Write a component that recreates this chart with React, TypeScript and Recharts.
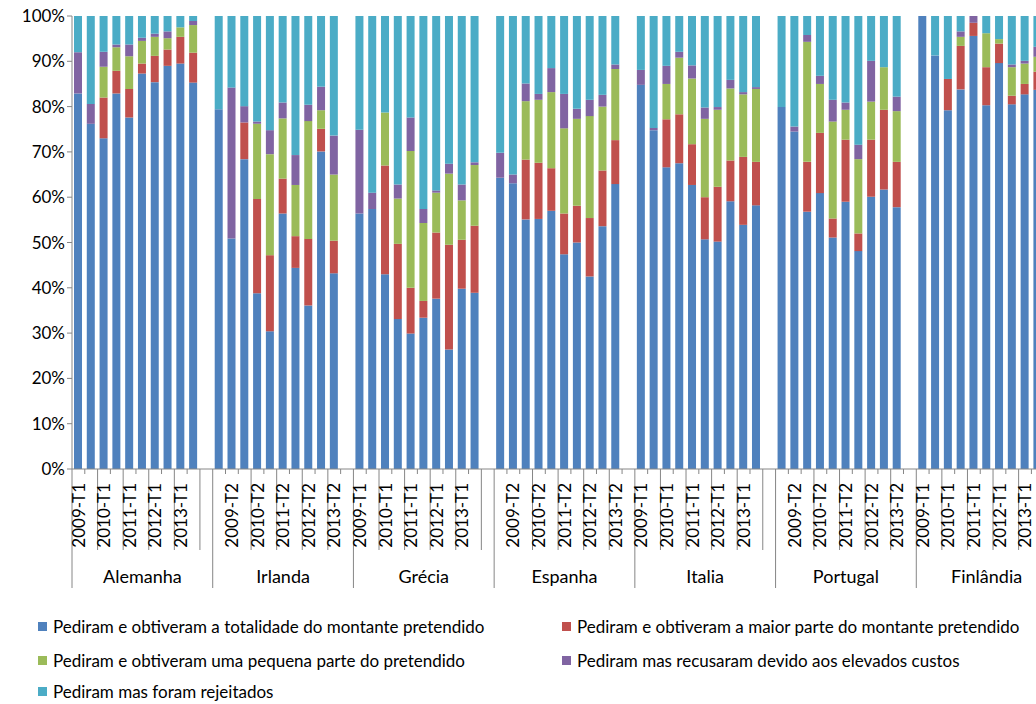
import { Bar, BarChart, XAxis, YAxis } from 'recharts'

const countries = ['Alemanha', 'Irlanda', 'Grécia', 'Espanha', 'Italia', 'Portugal', 'Finlândia']
const periods = ['2009-T1', '2009-T2', '2010-T1', '2010-T2', '2011-T1', '2011-T2', '2012-T1', '2012-T2', '2013-T1', '2013-T2']
const yTicks = [0, 10, 20, 30, 40, 50, 60, 70, 80, 90, 100]

// one row per country, values per period (%)
const totalidade = [
  [82.9, 76.2, 73.0, 82.9, 77.6, 87.3, 85.4, 89.0, 89.5, 85.3],
  [79.4, 50.9, 68.4, 38.8, 30.4, 56.4, 44.4, 36.1, 70.1, 43.2],
  [56.4, 57.4, 43.0, 33.1, 29.9, 33.4, 37.6, 26.4, 39.8, 38.9],
  [64.3, 63.1, 55.1, 55.2, 57.0, 47.4, 50.0, 42.5, 53.6, 62.9],
  [84.8, 74.8, 66.6, 67.5, 62.7, 50.7, 50.2, 59.1, 53.9, 58.2],
  [79.9, 74.5, 56.8, 60.9, 51.1, 59.0, 48.1, 60.1, 61.7, 57.8],
  [100, 91.3, 79.2, 83.8, 95.6, 80.3, 89.6, 80.5, 82.7, 83.7],
]
const maiorParte = [
  [0, 0, 9.0, 5.0, 6.3, 2.2, 5.8, 3.6, 5.9, 6.6],
  [0, 0, 8.1, 20.8, 16.8, 7.7, 7.0, 14.7, 5.0, 7.2],
  [0, 0, 24.0, 16.6, 10.1, 3.7, 14.6, 23.1, 10.8, 14.8],
  [0, 0, 13.2, 12.4, 9.4, 9.0, 8.1, 12.9, 12.3, 9.7],
  [0, 0, 10.6, 10.8, 9.0, 9.3, 12.1, 9.0, 15.0, 9.6],
  [0, 0, 11.0, 13.3, 4.2, 13.7, 3.9, 12.6, 17.6, 10.0],
  [0, 0, 6.9, 9.6, 2.9, 8.4, 4.3, 1.9, 2.3, 4.0],
]
const pequenaParte = [
  [0, 0, 6.8, 5.2, 7.2, 5.0, 4.2, 2.5, 2.1, 6.1],
  [0, 0, 0, 16.6, 22.3, 13.3, 11.3, 26.0, 4.1, 14.6],
  [0, 0, 11.7, 10.0, 30.2, 17.2, 8.8, 15.7, 8.7, 13.4],
  [0, 0, 12.9, 13.9, 16.8, 18.8, 19.2, 22.5, 14.1, 15.7],
  [0, 0, 7.8, 12.5, 14.5, 17.3, 17.0, 15.9, 13.8, 16.1],
  [0, 0, 26.5, 10.8, 21.4, 6.6, 16.4, 8.4, 9.4, 11.2],
  [0, 0, 0, 2.0, 0, 7.5, 1.0, 6.3, 4.5, 3.3],
]
const recusaramCustos = [
  [9.1, 4.4, 3.3, 0.6, 2.6, 0.7, 0.7, 1.5, 0, 0.9],
  [0, 33.3, 3.6, 0.5, 5.3, 3.5, 6.6, 3.6, 5.2, 8.6],
  [18.5, 3.6, 0, 3.1, 7.4, 3.1, 0.5, 2.2, 3.5, 0.6],
  [5.5, 1.9, 3.9, 1.3, 5.3, 7.6, 2.2, 3.6, 2.6, 1.0],
  [3.3, 0.5, 4.0, 1.3, 2.9, 2.5, 0.6, 1.9, 0.5, 0.4],
  [0, 1.1, 1.5, 1.8, 4.8, 1.6, 3.2, 9.0, 0, 3.2],
  [0, 0, 0, 1.2, 1.5, 0, 0, 0.6, 0.6, 2.2],
]
const rejeitados = [
  [8.0, 19.4, 7.9, 6.3, 6.3, 4.8, 3.9, 3.4, 2.5, 1.1],
  [20.6, 15.8, 19.9, 23.3, 25.2, 19.1, 30.7, 19.6, 15.6, 26.4],
  [25.1, 39.0, 21.3, 37.2, 22.4, 42.6, 38.5, 32.6, 37.2, 32.3],
  [30.2, 35.0, 14.9, 17.2, 11.5, 17.2, 20.5, 18.5, 17.4, 10.7],
  [11.9, 24.7, 11.0, 7.9, 10.9, 20.2, 20.1, 14.1, 16.8, 15.7],
  [20.1, 24.4, 4.2, 13.2, 18.5, 19.1, 28.4, 9.9, 11.3, 17.8],
  [0, 8.7, 13.9, 3.4, 0, 3.8, 5.1, 10.7, 9.9, 6.8],
]

const series = [
  { key: 'totalidade', name: 'Pediram e obtiveram a totalidade do montante pretendido', color: '#4F81BD', values: totalidade },
  { key: 'maiorParte', name: 'Pediram e obtiveram a maior parte do montante pretendido', color: '#C0504D', values: maiorParte },
  { key: 'pequenaParte', name: 'Pediram e obtiveram uma pequena parte do pretendido', color: '#9BBB59', values: pequenaParte },
  { key: 'recusaramCustos', name: 'Pediram mas recusaram devido aos elevados custos', color: '#8064A2', values: recusaramCustos },
  { key: 'rejeitados', name: 'Pediram mas foram rejeitados', color: '#4BACC6', values: rejeitados },
]

// each country gets its periods plus one empty slot at the end
const data: any[] = []
countries.forEach((c, ci) => {
  periods.forEach((p, pi) => {
    const row: any = { key: `${c} ${p}`, country: c, period: p }
    series.forEach(s => { row[s.key] = s.values[ci][pi] })
    data.push(row)
  })
  data.push({ key: `${c} -`, country: c, period: '' })
})

const GROUP = periods.length + 1
const W = 1072
const H = 704
const MARGIN = { top: 16, right: 15, bottom: 0, left: 0 }
const Y_W = 72
const X_H = 235
const BAND = (W - MARGIN.left - MARGIN.right - Y_W) / data.length
const FONT = 'Lato, sans-serif'
const AXIS = '#868686'

function CategoryTick(props: any) {
  const { x, y, payload } = props
  const i = payload.index
  const row = data[i]
  const left = x - BAND / 2
  const pos = i % GROUP
  let len = 5
  if (pos === 0) len = 119
  else if (i % 2 === 0 && pos !== 1) len = 81
  return (
    <g>
      <line x1={left} x2={left} y1={y} y2={y + len} stroke={AXIS} />
      {i % 2 === 0 && row.period !== '' && (
        <text x={x} y={y + 14} transform={`rotate(-90 ${x} ${y + 14})`} textAnchor="end" dy="0.36em"
          fontFamily={FONT} fontSize={17} fill="#000">{row.period}</text>
      )}
      {pos === 0 && (
        <text x={left + (BAND * GROUP) / 2} y={y + 114} textAnchor="middle"
          fontFamily={FONT} fontSize={18} fill="#000">{row.country}</text>
      )}
    </g>
  )
}

const legendPos = [
  { left: 38, top: 626 },
  { left: 562, top: 626 },
  { left: 38, top: 660 },
  { left: 562, top: 660 },
  { left: 38, top: 691 },
]

export default function App() {
  return (
    <div style={{ position: 'absolute', left: 0, top: 0, width: 1036, height: 704, overflow: 'hidden', background: '#fff' }}>
      <BarChart width={W} height={H} data={data} margin={MARGIN} barSize={8}>
        <XAxis dataKey="key" interval={0} height={X_H} tickSize={0} tickMargin={0} tickLine={false}
          axisLine={{ stroke: AXIS }} tick={<CategoryTick />} />
        <YAxis width={Y_W} domain={[0, 100]} ticks={yTicks} allowDataOverflow tickFormatter={(v: number) => `${v}%`}
          tickSize={5} axisLine={{ stroke: AXIS }} tickLine={{ stroke: AXIS }}
          tick={{ fontFamily: FONT, fontSize: 17, fill: '#000' }} />
        {series.map(s => (
          <Bar key={s.key} dataKey={s.key} name={s.name} stackId="a" fill={s.color} isAnimationActive={false} />
        ))}
      </BarChart>
      {series.map((s, i) => (
        <div key={s.key} style={{ position: 'absolute', left: legendPos[i].left, top: legendPos[i].top - 11, height: 22,
          display: 'flex', alignItems: 'center', fontFamily: FONT, fontSize: 17, color: '#000', whiteSpace: 'nowrap' }}>
          <span style={{ display: 'inline-block', width: 9, height: 9, background: s.color, marginRight: 6 }} />
          {s.name}
        </div>
      ))}
    </div>
  )
}
